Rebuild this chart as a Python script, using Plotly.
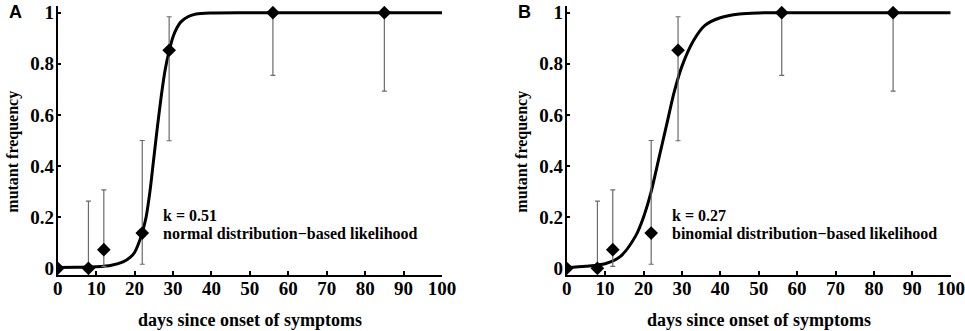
import plotly.graph_objects as go

# ---- data ----
days = [0, 8, 12, 22, 29, 56, 85]
freq = [0.0, 0.0, 0.073, 0.138, 0.853, 1.0, 1.0]
err_plus = [0.0, 0.263, 0.234, 0.362, 0.131, 0.0, 0.0]
err_minus = [0.0, 0.0, 0.065, 0.122, 0.354, 0.245, 0.307]

# fitted curve
curve_a_x = [0, 5, 10, 14, 17, 19, 20, 21, 22, 23, 24, 25, 26, 27, 28, 29, 30, 31, 32, 34, 36, 40, 50, 100]
curve_a_y = [0.003, 0.004, 0.006, 0.012, 0.025, 0.045, 0.062, 0.095, 0.14, 0.2, 0.3, 0.43, 0.56, 0.68, 0.78, 0.85, 0.905, 0.94, 0.963, 0.985, 0.995, 0.999, 1.0, 1.0]
curve_b_x = [0, 5, 10, 14, 18, 20, 22, 24, 26, 28, 30, 33, 36, 40, 45, 50, 60, 100]
curve_b_y = [0.003, 0.008, 0.018, 0.047, 0.128, 0.2, 0.3, 0.43, 0.56, 0.69, 0.79, 0.89, 0.95, 0.98, 0.995, 0.999, 1.0, 1.0]

x_ticks = list(range(0, 101, 10))
y_ticks = [0, 0.2, 0.4, 0.6, 0.8, 1]
y_tick_text = ["0", "0.2", "0.4", "0.6", "0.8", "1"]

panels = [
    dict(letter="A", k="k = 0.51", lik="normal distribution\u2212based likelihood", cx=curve_a_x, cy=curve_a_y),
    dict(letter="B", k="k = 0.27", lik="binomial distribution\u2212based likelihood", cx=curve_b_x, cy=curve_b_y),
]

W, H = 965, 331
x_doms = [(57.7 / W, 442.0 / W), (566.7 / W, 950.7 / W)]
y_dom = ((H - 275.0) / H, (H - 6.0) / H)

SERIF = "Liberation Serif"
fig = go.Figure()
annotations = []
for i, p in enumerate(panels):
    xa = "x" if i == 0 else "x2"
    ya = "y" if i == 0 else "y2"
    fig.add_trace(go.Scatter(
        x=p["cx"], y=p["cy"], mode="lines", line=dict(color="black", width=3, shape="spline", smoothing=0.8),
        xaxis=xa, yaxis=ya, showlegend=False, hoverinfo="skip"))
    fig.add_trace(go.Scatter(
        x=days, y=freq, mode="markers",
        marker=dict(symbol="diamond", size=10.5, color="black"),
        error_y=dict(type="data", symmetric=False, array=err_plus, arrayminus=err_minus,
                     color="#6a6a6a", thickness=1.2, width=2.5),
        xaxis=xa, yaxis=ya, showlegend=False))
    x0, x1 = x_doms[i]
    annotations.append(dict(x=27.0, y=0.207, xref=xa, yref=ya, text="<b>" + p["k"] + "</b>",
                            showarrow=False, xanchor="left", yanchor="middle",
                            font=dict(family=SERIF, size=16, color="black")))
    annotations.append(dict(x=27.0, y=0.137, xref=xa, yref=ya, text="<b>" + p["lik"] + "</b>",
                            showarrow=False, xanchor="left", yanchor="middle",
                            font=dict(family=SERIF, size=16, color="black")))
    annotations.append(dict(x=(x0 + x1) / 2, y=(H - 320.0) / H, xref="paper", yref="paper",
                            text="<b>days since onset of symptoms</b>", showarrow=False,
                            xanchor="center", yanchor="middle",
                            font=dict(family=SERIF, size=18, color="black")))
    annotations.append(dict(x=(x0 * W - 45.5) / W, y=(H - 151.5) / H, xref="paper", yref="paper",
                            text="<b>mutant frequency</b>", textangle=-90, showarrow=False,
                            xanchor="center", yanchor="middle",
                            font=dict(family=SERIF, size=16, color="black")))
    annotations.append(dict(x=(x0 * W - 51.0) / W, y=(H - 12.0) / H, xref="paper", yref="paper",
                            text="<b>" + p["letter"] + "</b>", showarrow=False,
                            xanchor="left", yanchor="middle",
                            font=dict(family="Liberation Sans", size=18, color="black")))

axis_common = dict(showgrid=False, zeroline=False, showline=True, linecolor="black", linewidth=2,
                   ticks="inside", tickcolor="black", tickwidth=1.5, automargin=False,
                   tickfont=dict(family=SERIF, size=19, color="black"))

layout = dict(
    width=W, height=H, margin=dict(l=0, r=0, t=0, b=0),
    paper_bgcolor="white", plot_bgcolor="white",
    annotations=annotations,
)
for i in range(2):
    xk = "xaxis" if i == 0 else "xaxis2"
    yk = "yaxis" if i == 0 else "yaxis2"
    layout[xk] = dict(axis_common, domain=list(x_doms[i]), range=[0, 100], tickvals=x_ticks,
                      ticktext=["<b>%d</b>" % v for v in x_ticks], ticklen=4, ticklabelstandoff=-5,
                      anchor="y" if i == 0 else "y2")
    layout[yk] = dict(axis_common, domain=list(y_dom), range=[-0.026, 1.026], tickvals=y_ticks,
                      ticktext=["<b>%s</b>" % t for t in y_tick_text], ticklen=3, ticklabelstandoff=-2,
                      anchor="x" if i == 0 else "x2")

fig.update_layout(**layout)
fig.write_html("out.html", config={"displayModeBar": False},
               post_script="document.body.style.margin='0';document.body.style.overflow='hidden';")
